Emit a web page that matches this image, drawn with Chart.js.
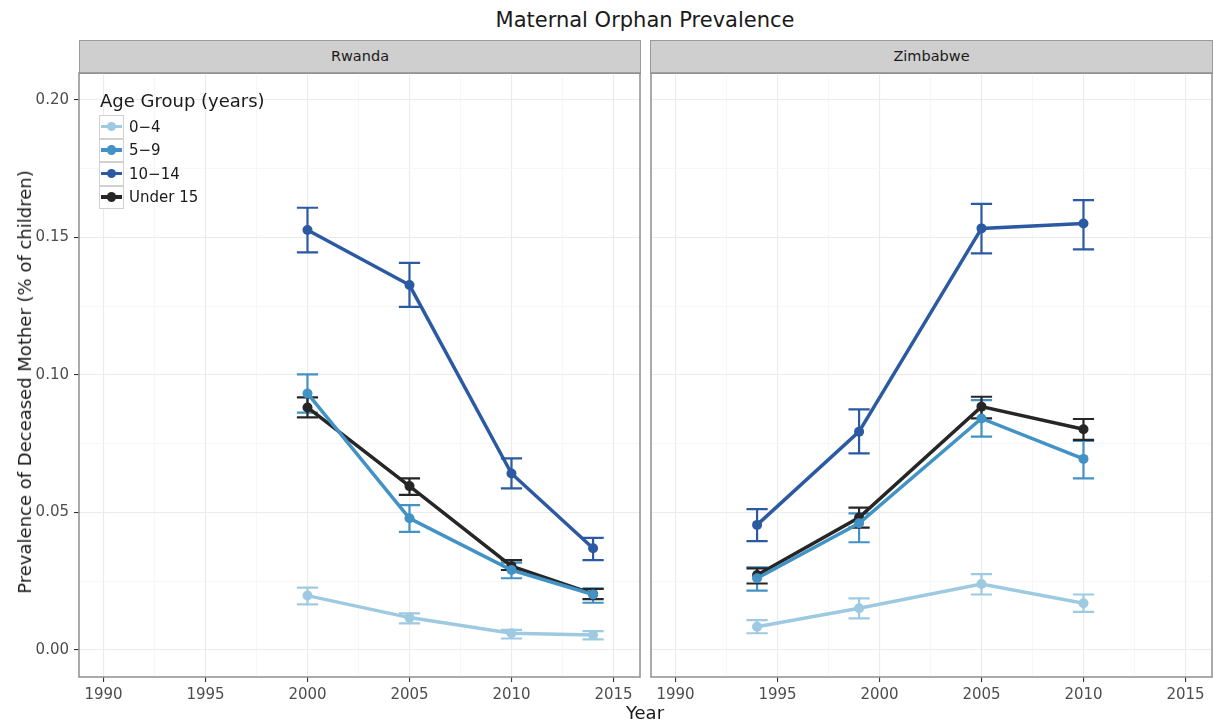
<!DOCTYPE html>
<html>
<head>
<meta charset="utf-8">
<script src="https://cdn.jsdelivr.net/npm/chart.js@4/dist/chart.umd.min.js"></script>
<style>
  body { margin: 0; background: #fff; font-family: "DejaVu Sans", sans-serif; }
  #page { position: relative; width: 1213px; height: 724px; overflow: hidden; }
  .abs { position: absolute; }
  #title { left: 0; width: 1290px; top: 8px; text-align: center; font-size: 21px; color: #1a1a1a; line-height: 24px; }
  .strip { top: 40px; height: 34px; background: #cfcfcf; border: 1.5px solid #9a9a9a; box-sizing: border-box;
           font-size: 14.5px; color: #1a1a1a; text-align: center; line-height: 31px; }
  #ytitle { left: 25px; top: 382px; font-size: 18px; color: #1a1a1a; white-space: nowrap;
            transform: translate(-50%, -50%) rotate(-90deg); line-height: 20px; }
  #xtitle { left: 0; width: 1290px; top: 703px; text-align: center; font-size: 18px; color: #1a1a1a; line-height: 20px; }
  #legend { left: 99px; top: 90px; }
  #legend .lt { font-size: 18px; color: #1a1a1a; line-height: 22px; margin-left: 1px; margin-bottom: 3px; }
  #legend .row { display: flex; align-items: center; height: 23.5px; }
  #legend .key { position: relative; width: 25px; height: 23.5px; box-sizing: border-box;
                 border: 1.5px solid #d0d0d0; background: #fff; }
  #legend .key .ln { position: absolute; left: 1px; right: 1px; top: 8.75px; height: 3.5px; }
  #legend .key .dt { position: absolute; left: 6.5px; top: 5.5px; width: 9.5px; height: 9.5px; border-radius: 50%; }
  #legend .lb { font-size: 15px; color: #1a1a1a; margin-left: 5px; }
  canvas { position: absolute; }
</style>
</head>
<body>
<div id="page">
  <div id="title" class="abs">Maternal Orphan Prevalence</div>
  <div class="abs strip" style="left:79px;width:562px;">Rwanda</div>
  <div class="abs strip" style="left:650px;width:563px;">Zimbabwe</div>
  <canvas id="rwandaChart" width="645" height="641" style="left:0;top:72px;"></canvas>
  <canvas id="zimbabweChart" width="568" height="641" style="left:645px;top:72px;"></canvas>
  <div id="ytitle" class="abs">Prevalence of Deceased Mother (% of children)</div>
  <div id="xtitle" class="abs">Year</div>
  <div id="legend" class="abs"><div class="lt">Age Group (years)</div></div>
</div>
<script>
// groups and colours
const ageGroups = ["0\u22124", "5\u22129", "10\u221214", "Under 15"];
const groupColors = ["#9ecae1", "#4292c6", "#2b5aa3", "#262626"];

// Rwanda survey years and estimates (rows follow ageGroups)
const rwandaYears = [2000, 2005, 2010, 2014];
const rwandaPrev = [
  [0.0198, 0.0118, 0.0061, 0.0055],
  [0.0933, 0.0479, 0.0291, 0.0202],
  [0.1527, 0.1327, 0.0642, 0.0370],
  [0.0882, 0.0596, 0.0305, 0.0204]
];
const rwandaLow = [
  [0.0166, 0.0097, 0.0042, 0.0039],
  [0.0863, 0.0430, 0.0261, 0.0172],
  [0.1446, 0.1248, 0.0588, 0.0327],
  [0.0846, 0.0564, 0.0291, 0.0185]
];
const rwandaHigh = [
  [0.0227, 0.0133, 0.0073, 0.0069],
  [0.1002, 0.0527, 0.0318, 0.0224],
  [0.1608, 0.1408, 0.0697, 0.0408],
  [0.0919, 0.0624, 0.0327, 0.0222]
];

// Zimbabwe survey years and estimates
const zimbabweYears = [1994, 1999, 2005, 2010];
const zimbabwePrev = [
  [0.0085, 0.0152, 0.0240, 0.0170],
  [0.0261, 0.0461, 0.0842, 0.0695],
  [0.0455, 0.0794, 0.1533, 0.1551],
  [0.0273, 0.0482, 0.0885, 0.0803]
];
const zimbabweLow = [
  [0.0061, 0.0115, 0.0202, 0.0139],
  [0.0216, 0.0392, 0.0776, 0.0624],
  [0.0396, 0.0715, 0.1442, 0.1457],
  [0.0242, 0.0445, 0.0842, 0.0764]
];
const zimbabweHigh = [
  [0.0109, 0.0188, 0.0276, 0.0202],
  [0.0301, 0.0497, 0.0909, 0.0760],
  [0.0512, 0.0875, 0.1622, 0.1636],
  [0.0297, 0.0518, 0.0921, 0.0840]
];

// axes
const xTicks = [1990, 1995, 2000, 2005, 2010, 2015];
const xMinor = [1992.5, 1997.5, 2002.5, 2007.5, 2012.5];
const yTicks = [0, 0.05, 0.10, 0.15, 0.20];
const yMinor = [0.025, 0.075, 0.125, 0.175];
const xRange = [1988.8, 2016.3];
const yRange = [-0.0098, 0.2098];

Chart.defaults.font.family = "'DejaVu Sans', sans-serif";

// error bars drawn under lines, caps one year wide
const errorBars = {
  id: "errorBars",
  beforeDatasetsDraw(chart) {
    const { ctx, scales: { x, y } } = chart;
    ctx.save();
    ctx.lineWidth = 2.2;
    chart.data.datasets.forEach(ds => {
      ctx.strokeStyle = ds.borderColor;
      ds.data.forEach((p, j) => {
        const px = x.getPixelForValue(p.x);
        const half = x.getPixelForValue(p.x + 0.52) - px;
        const top = y.getPixelForValue(ds.high[j]);
        const bot = y.getPixelForValue(ds.low[j]);
        ctx.beginPath();
        ctx.moveTo(px, top); ctx.lineTo(px, bot);
        ctx.moveTo(px - half, top); ctx.lineTo(px + half, top);
        ctx.moveTo(px - half, bot); ctx.lineTo(px + half, bot);
        ctx.stroke();
      });
    });
    ctx.restore();
  }
};

const panelBorder = {
  id: "panelBorder",
  afterDraw(chart) {
    const { ctx, chartArea: a } = chart;
    ctx.save();
    ctx.strokeStyle = "#8f8f8f";
    ctx.lineWidth = 1.5;
    ctx.strokeRect(a.left, a.top, a.right - a.left, a.bottom - a.top);
    ctx.restore();
  }
};

function makeDatasets(years, prev, low, high) {
  return ageGroups.map((g, i) => ({
    label: g,
    data: years.map((yr, j) => ({ x: yr, y: prev[i][j] })),
    low: low[i],
    high: high[i],
    borderColor: groupColors[i],
    backgroundColor: groupColors[i],
    borderWidth: 3.5,
    pointRadius: 5,
    pointHoverRadius: 5,
    pointBorderWidth: 0,
    tension: 0
  }));
}

const isMajor = (v, list) => list.some(t => Math.abs(t - v) < 1e-9);
const sorted = (a, b) => a.concat(b).sort((p, q) => p - q);

function makeScales(showY) {
  return {
    x: {
      type: "linear",
      min: xRange[0],
      max: xRange[1],
      afterBuildTicks: s => { s.ticks = sorted(xTicks, xMinor).map(v => ({ value: v })); },
      afterFit: s => { s.height = 36; s.paddingLeft = 0; s.paddingRight = 0; },
      border: { display: false },
      grid: {
        color: c => isMajor(c.tick.value, xTicks) ? "#ebebeb" : "#f4f4f4",
        lineWidth: c => isMajor(c.tick.value, xTicks) ? 1.1 : 0.7,
        tickColor: c => isMajor(c.tick.value, xTicks) ? "#333333" : "rgba(0,0,0,0)",
        tickLength: 5
      },
      ticks: {
        autoSkip: false,
        maxRotation: 0,
        padding: 4,
        color: "#4d4d4d",
        font: { size: 15 },
        callback: v => isMajor(v, xTicks) ? String(v) : ""
      }
    },
    y: {
      type: "linear",
      min: yRange[0],
      max: yRange[1],
      afterBuildTicks: s => { s.ticks = sorted(yTicks, yMinor).map(v => ({ value: v })); },
      afterFit: s => { s.width = showY ? 79 : 0; s.paddingTop = 0; s.paddingBottom = 0; },
      border: { display: false },
      grid: {
        color: c => isMajor(c.tick.value, yTicks) ? "#ebebeb" : "#f4f4f4",
        lineWidth: c => isMajor(c.tick.value, yTicks) ? 1.1 : 0.7,
        tickColor: c => isMajor(c.tick.value, yTicks) ? "#333333" : "rgba(0,0,0,0)",
        tickLength: 5,
        drawTicks: showY
      },
      ticks: {
        display: showY,
        autoSkip: false,
        padding: 5,
        color: "#4d4d4d",
        font: { size: 15 },
        callback: v => isMajor(v, yTicks) ? v.toFixed(2) : ""
      }
    }
  };
}

function makeChart(id, datasets, showY, padding) {
  return new Chart(document.getElementById(id), {
    type: "line",
    data: { datasets },
    options: {
      responsive: false,
      animation: false,
      events: [],
      layout: { padding, autoPadding: false },
      plugins: { legend: { display: false }, tooltip: { enabled: false } },
      scales: makeScales(showY)
    },
    plugins: [errorBars, panelBorder]
  });
}

makeChart("rwandaChart", makeDatasets(rwandaYears, rwandaPrev, rwandaLow, rwandaHigh), true,
  { left: 0, right: 5, top: 1, bottom: 0 });
makeChart("zimbabweChart", makeDatasets(zimbabweYears, zimbabwePrev, zimbabweLow, zimbabweHigh), false,
  { left: 6, right: 1, top: 1, bottom: 0 });

// legend keys
const legend = document.getElementById("legend");
ageGroups.forEach((g, i) => {
  const row = document.createElement("div");
  row.className = "row";
  row.innerHTML = '<div class="key"><div class="ln" style="background:' + groupColors[i] + '"></div>' +
    '<div class="dt" style="background:' + groupColors[i] + '"></div></div><span class="lb"></span>';
  row.querySelector(".lb").textContent = g;
  legend.appendChild(row);
});
</script>
</body>
</html>
